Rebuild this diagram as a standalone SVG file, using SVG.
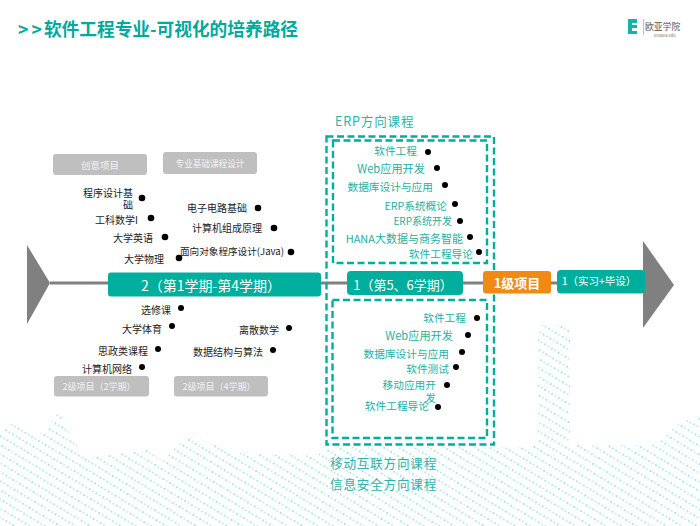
<svg xmlns="http://www.w3.org/2000/svg" width="700" height="526" viewBox="0 0 700 526">
<style>
text{font-family:"Noto Sans CJK SC","Noto Sans",sans-serif}
.k,.t,.h,.w,.gt{dominant-baseline:central;transform:translateY(-1px)}
.k{fill:#222;font-size:10px;text-anchor:end}
.t{fill:#1fb0a3;font-size:10.7px;text-anchor:end}
.d{fill:#000}
.g{fill:#bfbfbf}
.gt{fill:#f2f2f2;font-size:9px;text-anchor:middle}
.b{fill:#00ae9d}
.w{fill:#fff;text-anchor:middle}
.o{fill:none;stroke:#00ae9d;stroke-width:2.4;stroke-dasharray:7 3.5}
.h{fill:#2fb3a8;font-size:12.6px;letter-spacing:.8px}
.m{fill:#808080}
</style>
<defs>
<pattern id="p1" width="12.4" height="10" patternUnits="userSpaceOnUse" patternTransform="rotate(-8)">
<circle cx="2" cy="2" r="1" fill="#8fe3ec"/><circle cx="8.2" cy="7" r="1" fill="#9fd3f3"/>
<circle cx="5" cy="4.500" r=".9" fill="#a6eaf0"/><circle cx="11.200" cy="9.500" r=".9" fill="#a8ddf4"/>
</pattern>
<clipPath id="wave"><path d="M0 433L13 423 27 433 45 433 58 410 74 443 89 457 147 450 161 460 192 433 210 445 221 442 237 453 312 455 330 447 520 447 538 445 538 325 570 325 570 445 655 445 675 425 700 415V526H0Z"/></clipPath>
</defs>
<g id="background"><rect width="700" height="526" fill="#fff"/><rect width="700" height="526" fill="url(#p1)" clip-path="url(#wave)"/></g>
<g id="title"><text x="18" y="36" font-size="17.7" font-weight="700" fill="#00a99d">&gt;<tspan dx="3">&gt;</tspan><tspan dx="2">软件工程专业-可视化的培养路径</tspan></text></g>
<g id="logo">
<path d="M628 19H637V23H632V25H637V28H632V31H637V34H628Z" fill="#12b5a5"/>
<rect x="643" y="19" width="1" height="16" fill="#8fd4ce"/>
<text x="645" y="30" font-size="8.800" fill="#555">欧亚学院</text>
<text x="654" y="37" font-size="4" fill="#777">eurasia.edu</text>
</g>
<g id="connectors">
<line x1="50" y1="283" x2="645" y2="283" stroke="#808080" stroke-width="3"/>
</g>
<g id="arrow-start"><path class="m" d="M27 245L50 283 27 324Z"/></g>
<g id="arrow-end"><path class="m" d="M643 241L674 285 643 328Z"/></g>
<g id="box-outer"><rect class="o" x="326.500" y="136.500" width="167.500" height="308"/></g>
<g id="box-erp"><rect class="o" x="333" y="140.500" width="154" height="122.500"/></g>
<g id="box-mobile"><rect class="o" x="332.500" y="300" width="154.500" height="138"/></g>
<g id="bar-2"><rect class="b" x="108" y="272.500" width="213" height="24" rx="3"/><text class="w" x="211" y="286" font-size="14">2（第1学期-第4学期）</text></g>
<g id="bar-1"><rect class="b" x="347" y="271" width="116" height="24" rx="4"/><text class="w" x="403" y="285.500" font-size="13">1（第5、6学期）</text></g>
<g id="bar-level1"><rect x="483" y="271" width="68" height="22.500" rx="3" fill="#f08a12"/><text class="w" x="517" y="283" font-size="13" font-weight="700">1级项目</text></g>
<g id="bar-intern"><rect class="b" x="557" y="270" width="88" height="23.500" rx="4"/><text class="w" x="599" y="281" font-size="10.500">1（实习+毕设）</text></g>
<g id="tag-1"><rect class="g" x="53" y="154" width="94" height="21" rx="3"/><text class="gt" x="100" y="165.500" style="font-size:9.500px">创意项目</text></g>
<g id="tag-2"><rect class="g" x="163" y="152" width="94" height="22" rx="3"/><text class="gt" x="210" y="164" style="font-size:8.600px">专业基础课程设计</text></g>
<g id="tag-3"><rect class="g" x="54" y="376" width="95" height="20.500" rx="3"/><text class="gt" x="99" y="387">2级项目（2学期）</text></g>
<g id="tag-4"><rect class="g" x="174" y="376" width="94" height="20.500" rx="3"/><text class="gt" x="219" y="387">2级项目（4学期）</text></g>
<g id="course-1"><text class="k" x="133" y="193">程序设计基</text><text class="k" x="133" y="205">础</text><circle class="d" cx="142" cy="198" r="3.300"/></g>
<g id="course-2"><text class="k" x="138" y="220">工科数学I</text><circle class="d" cx="151" cy="218" r="3.300"/></g>
<g id="course-3"><text class="k" x="153" y="238">大学英语</text><circle class="d" cx="165" cy="237" r="3.300"/></g>
<g id="course-4"><text class="k" x="164" y="259">大学物理</text><circle class="d" cx="179" cy="258" r="3.300"/></g>
<g id="course-5"><text class="k" x="247" y="208">电子电路基础</text><circle class="d" cx="258" cy="208" r="3.300"/></g>
<g id="course-6"><text class="k" x="262" y="228">计算机组成原理</text><circle class="d" cx="274" cy="228" r="3.300"/></g>
<g id="course-7"><text class="k" x="284" y="252" style="font-size:9.600px">面向对象程序设计(Java)</text><circle class="d" cx="291" cy="252" r="3.300"/></g>
<g id="course-8"><text class="k" x="171" y="310">选修课</text><circle class="d" cx="181" cy="308" r="3"/></g>
<g id="course-9"><text class="k" x="162" y="329">大学体育</text><circle class="d" cx="172" cy="326" r="3"/></g>
<g id="course-10"><text class="k" x="148" y="351">思政类课程</text><circle class="d" cx="158" cy="349" r="3"/></g>
<g id="course-11"><text class="k" x="132" y="369">计算机网络</text><circle class="d" cx="142" cy="367" r="3"/></g>
<g id="course-12"><text class="k" x="279" y="330">离散数学</text><circle class="d" cx="289" cy="328" r="3"/></g>
<g id="course-13"><text class="k" x="263" y="352">数据结构与算法</text><circle class="d" cx="273" cy="350" r="3"/></g>
<g id="label-erp"><text class="h" x="335" y="121.500">ERP方向课程</text></g>
<g id="erp-1"><text class="t" x="417" y="151">软件工程</text><circle class="d" cx="428" cy="152" r="3"/></g>
<g id="erp-2"><text class="t" x="425" y="169" style="font-size:11.200px">Web应用开发</text><circle class="d" cx="437" cy="168" r="3"/></g>
<g id="erp-3"><text class="t" x="433" y="187">数据库设计与应用</text><circle class="d" cx="445" cy="185" r="3"/></g>
<g id="erp-4"><text class="t" x="447" y="206">ERP系统概论</text><circle class="d" cx="455" cy="204" r="3"/></g>
<g id="erp-5"><text class="t" x="452" y="221" style="font-size:10px">ERP系统开发</text><circle class="d" cx="460" cy="221" r="3"/></g>
<g id="erp-6"><text class="t" x="463" y="239" style="font-size:11px">HANA大数据与商务智能</text><circle class="d" cx="470" cy="237" r="3"/></g>
<g id="erp-7"><text class="t" x="473" y="254">软件工程导论</text><circle class="d" cx="479" cy="252" r="3"/></g>
<g id="mob-1"><text class="t" x="466" y="318">软件工程</text><circle class="d" cx="477" cy="318" r="3"/></g>
<g id="mob-2"><text class="t" x="453" y="336" style="font-size:11.200px">Web应用开发</text><circle class="d" cx="468" cy="335" r="3"/></g>
<g id="mob-3"><text class="t" x="449" y="354">数据库设计与应用</text><circle class="d" cx="462" cy="352" r="3"/></g>
<g id="mob-4"><text class="t" x="449" y="369">软件测试</text><circle class="d" cx="456" cy="367" r="3"/></g>
<g id="mob-5"><text class="t" x="436" y="385">移动应用开</text><text class="t" x="436" y="398">发</text><circle class="d" cx="447" cy="385" r="3"/></g>
<g id="mob-6"><text class="t" x="429" y="406">软件工程导论</text><circle class="d" cx="438" cy="407" r="3"/></g>
<g id="label-mobile"><text class="h" x="330" y="463">移动互联方向课程</text></g>
<g id="label-security"><text class="h" x="330" y="484">信息安全方向课程</text></g>
</svg>
